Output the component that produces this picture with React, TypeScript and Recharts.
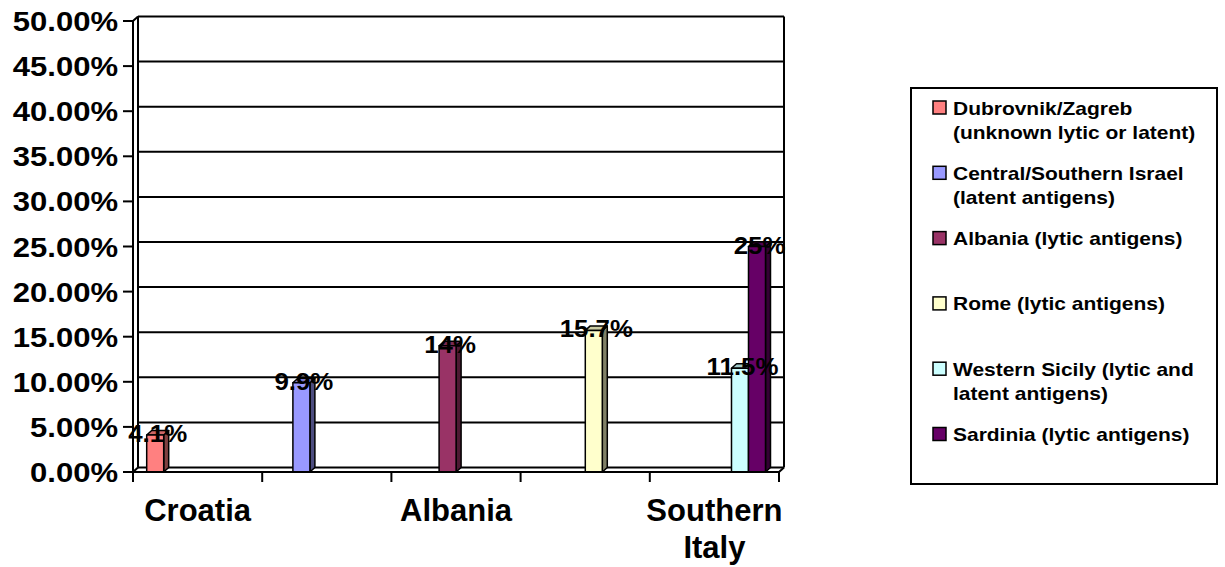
import React from "react";
import { BarChart, Bar, XAxis, YAxis, CartesianGrid, LabelList } from "recharts";

const categories = ["Croatia", "Israel", "Albania", "Rome", "Southern Italy"];

// one list per region, percent positive, null where the region has no bar
const dubrovnik = [4.1, null, null, null, null];
const israel = [null, 9.9, null, null, null];
const albania = [null, null, 14, null, null];
const rome = [null, null, null, 15.7, null];
const westernSicily = [null, null, null, null, 11.5];
const sardinia = [null, null, null, null, 25];

const yTicks = [0, 5, 10, 15, 20, 25, 30, 35, 40, 45, 50];

const seriesKeys = ["dubrovnik", "israel", "albania", "rome", "westernSicily", "sardinia"];
const seriesValues = [dubrovnik, israel, albania, rome, westernSicily, sardinia];
const seriesColors = ["#FF8080", "#9999FF", "#993366", "#FFFFCC", "#CCFFFF", "#660066"];
const seriesLabels = [
  ["Dubrovnik/Zagreb", "(unknown lytic or latent)"],
  ["Central/Southern Israel", "(latent antigens)"],
  ["Albania (lytic antigens)"],
  ["Rome (lytic antigens)"],
  ["Western Sicily (lytic and", "latent antigens)"],
  ["Sardinia (lytic antigens)"],
];

const data = categories.map((name, i) => {
  const row: Record<string, string | number | null> = { name };
  seriesKeys.forEach((k, s) => {
    row[k] = seriesValues[s][i];
  });
  return row;
});

const FONT = "'Liberation Sans', Arial, Helvetica, sans-serif";
// depth of the 3-D walls and bars
const DX = 5;
const DY = 4.5;

const shade = (hex: string, f: number) => {
  const n = parseInt(hex.slice(1), 16);
  const r = Math.round(((n >> 16) & 255) * f);
  const g = Math.round(((n >> 8) & 255) * f);
  const b = Math.round((n & 255) * f);
  return `rgb(${r},${g},${b})`;
};

const Bar3D = (props: any) => {
  const { x, y, width, height, fill } = props;
  if (!height || height <= 0) return <g />;
  const b = y + height;
  return (
    <g stroke="#000" strokeWidth={1.5} strokeLinejoin="round">
      <polygon
        points={`${x + width},${y} ${x + width + DX},${y - DY} ${x + width + DX},${b - DY} ${x + width},${b}`}
        fill={shade(fill, 0.5)}
      />
      <polygon
        points={`${x},${y} ${x + DX},${y - DY} ${x + width + DX},${y - DY} ${x + width},${y}`}
        fill={shade(fill, 0.8)}
      />
      <rect x={x} y={y} width={width} height={height} fill={fill} />
    </g>
  );
};

const BarValue = (props: any) => {
  const { x, y, width, value } = props;
  if (value == null) return null;
  return (
    <text
      transform={`translate(${x + width / 2 + 2.5},${y + 7}) scale(1.1,1)`}
      textAnchor="middle"
      fontFamily={FONT}
      fontSize={23.5}
      fontWeight="bold"
      fill="#000"
    >
      {`${value}%`}
    </text>
  );
};

// back-wall gridline, shifted into depth; the first call also draws the wall frame
const WallLine = (props: any) => {
  const { x1, x2, y1, index, x, y, width, height } = props;
  return (
    <g key={`wall-${index}`} stroke="#000" strokeWidth={2} fill="none">
      <line x1={x1 + DX} x2={x2 + DX} y1={y1 - DY} y2={y1 - DY} />
      {index === 0 && (
        <>
          <line x1={x + DX} x2={x + DX} y1={y - DY} y2={y + height - DY} />
          <line x1={x + width + DX} x2={x + width + DX} y1={y - DY} y2={y + height - DY} />
          <line x1={x} x2={x + DX} y1={y} y2={y - DY} />
          <line x1={x} x2={x + DX} y1={y + height} y2={y + height - DY} />
          <line x1={x + width} x2={x + width + DX} y1={y + height} y2={y + height - DY} />
        </>
      )}
    </g>
  );
};

const PercentTick = (props: any) => {
  const { x, y, payload } = props;
  return (
    <text
      transform={`translate(${x},${y + 10}) scale(1.15,1)`}
      textAnchor="end"
      fontFamily={FONT}
      fontSize={27}
      fontWeight="bold"
      fill="#000"
    >
      {`${Number(payload.value).toFixed(2)}%`}
    </text>
  );
};

const CategoryTick = (props: any) => {
  const { x, y, payload, index } = props;
  const half = payload.offset ?? 64.6;
  const last = index === categories.length - 1;
  const words = String(payload.value).split(" ");
  return (
    <g>
      <line x1={x - half} x2={x - half} y1={y} y2={y + 10} stroke="#000" strokeWidth={2} />
      {last && <line x1={x + half} x2={x + half} y1={y} y2={y + 10} stroke="#000" strokeWidth={2} />}
      {index % 2 === 0 && (
        <text x={x} y={y + 49} textAnchor="middle" fontFamily={FONT} fontSize={31} fontWeight="bold" fill="#000">
          {words.map((w, i) => (
            <tspan key={w} x={x} dy={i === 0 ? 0 : 37}>
              {w}
            </tspan>
          ))}
        </text>
      )}
    </g>
  );
};

const LegendBox = () => (
  <svg width={1225} height={567} style={{ position: "absolute", left: 0, top: 0, pointerEvents: "none" }}>
    <rect x={911} y={88} width={306} height={396} fill="#fff" stroke="#000" strokeWidth={2} />
    {seriesLabels.map((lines, i) => {
      const base = 114.5 + i * 65.3;
      return (
        <g key={seriesKeys[i]}>
          <rect x={933} y={base - 13.5} width={13} height={13} fill={seriesColors[i]} stroke="#000" strokeWidth={1.5} />
          {lines.map((t, j) => (
            <text
              key={t}
              transform={`translate(953,${base + j * 24.5}) scale(1.165,1)`}
              fontFamily={FONT}
              fontSize={18}
              fontWeight="bold"
              fill="#000"
            >
              {t}
            </text>
          ))}
        </g>
      );
    })}
  </svg>
);

export default function App() {
  return (
    <div style={{ position: "absolute", left: 0, top: 0, width: 1225, height: 567, background: "#fff" }}>
      <BarChart
        width={1225}
        height={567}
        data={data}
        margin={{ top: 21, right: 446, left: 0, bottom: 0 }}
        barCategoryGap="10.6%"
        barGap={0}
      >
        <CartesianGrid vertical={false} horizontal={(p: any) => <WallLine {...p} />} />
        <XAxis
          dataKey="name"
          height={95}
          interval={0}
          tickLine={false}
          tickSize={0}
          tickMargin={0}
          axisLine={{ stroke: "#000", strokeWidth: 2 }}
          tick={<CategoryTick />}
        />
        <YAxis
          width={133}
          domain={[0, 50]}
          ticks={yTicks}
          interval={0}
          tickSize={10}
          tickMargin={5}
          tickLine={{ stroke: "#000", strokeWidth: 2 }}
          axisLine={{ stroke: "#000", strokeWidth: 2 }}
          tick={<PercentTick />}
        />
        {seriesKeys.map((k, i) => (
          <Bar key={k} dataKey={k} fill={seriesColors[i]} shape={<Bar3D />} isAnimationActive={false}>
            <LabelList dataKey={k} content={<BarValue />} />
          </Bar>
        ))}
      </BarChart>
      <LegendBox />
    </div>
  );
}
